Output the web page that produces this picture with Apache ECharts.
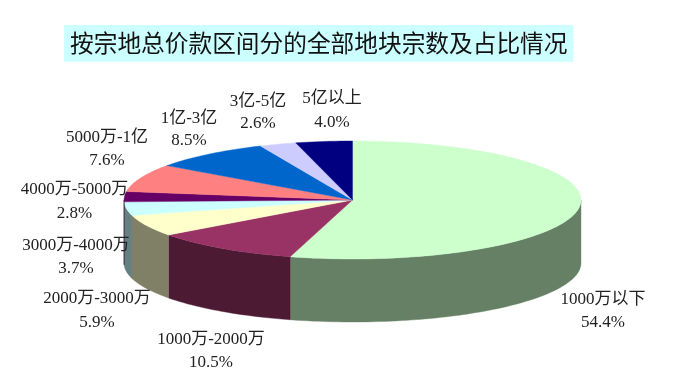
<!DOCTYPE html>
<html><head><meta charset="utf-8">
<style>html,body{margin:0;padding:0;background:#fff}#c{width:695px;height:387px}</style>
<script src="https://cdn.jsdelivr.net/npm/echarts@6/dist/echarts.min.js"></script>
</head><body><div id="c"></div>
<script>
const titleText = '按宗地总价款区间分的全部地块宗数及占比情况';
const categories = ['1000万以下','1000万-2000万','2000万-3000万','3000万-4000万','4000万-5000万','5000万-1亿','1亿-3亿','3亿-5亿','5亿以上'];
const shares = [54.4,10.5,5.9,3.7,2.8,7.6,8.5,2.6,4.0];
const topColors = ['#CCFFCC','#993366','#FFFFCC','#CCFFFF','#660066','#FF8080','#0066CC','#CCCCFF','#000080'];
const wallColors = ['#668066','#4D1A33','#808066','#668080','#330033','#804040','#003366','#666680','#000040'];
// Label anchors: centre x, first-line y, second-line y
const labelAnchors = [[603,300,323],[211,340,363],[97,299,323],[76,246,269],[74.5,190,214],[107,138,161],[189,119,141],[258,102,124],[332,99,123]];
const PIE = {cx:352.5, cy:200, rx:228.5, ry:59, depth:63};
const total = shares.reduce((a,b)=>a+b,0);
const starts = []; shares.reduce((acc,v,i)=>{starts[i]=acc;return acc+v;},0);
const pt = (deg,dy=0)=>{const r=deg*Math.PI/180;return [PIE.cx+PIE.rx*Math.sin(r),PIE.cy-PIE.ry*Math.cos(r)+dy];};
function arc(a,b,dy){const n=Math.max(2,Math.ceil((b-a)/1.5));const o=[];for(let i=0;i<=n;i++)o.push(pt(a+(b-a)*i/n,dy));return o;}
const FONT='"Liberation Serif","Noto Sans CJK SC",serif';
function renderItem(params,api){
  const i=params.dataIndex, v=api.value(0);
  const a=starts[i]/total*360, b=a+v/total*360;
  const children=[];
  const wa=Math.max(a,90), wb=Math.min(b,270);
  if(wb>wa){
    const up=arc(wa,wb,0), down=arc(wa,wb,PIE.depth).reverse();
    children.push({type:'polygon',shape:{points:up.concat(down)},style:{fill:wallColors[i],stroke:wallColors[i],lineWidth:0.4}});
  }
  children.push({type:'polygon',shape:{points:[[PIE.cx,PIE.cy]].concat(arc(a,b,0))},style:{fill:topColors[i],stroke:topColors[i],lineWidth:0.4}});
  const L=labelAnchors[i];
  [categories[i],v.toFixed(1)+'%'].forEach((t,k)=>children.push({type:'text',z2:10,style:{text:t,x:L[0],y:L[k+1],align:'center',verticalAlign:'middle',font:'17px '+FONT,fill:'#222'}}));
  return {type:'group',children};
}
const chart=echarts.init(document.getElementById('c'));
chart.setOption({
  animation:false,
  backgroundColor:'#fff',
  title:{text:titleText,left:64,top:25,padding:[6,6,7,6],backgroundColor:'#CCFFFF',
    textStyle:{fontFamily:'"Noto Sans CJK SC"',fontSize:23.7,fontWeight:'normal',color:'#111'}},
  series:[{type:'custom',coordinateSystem:'none',renderItem,data:shares.map((v,i)=>({name:categories[i],value:[v]}))}]
});
</script></body></html>
